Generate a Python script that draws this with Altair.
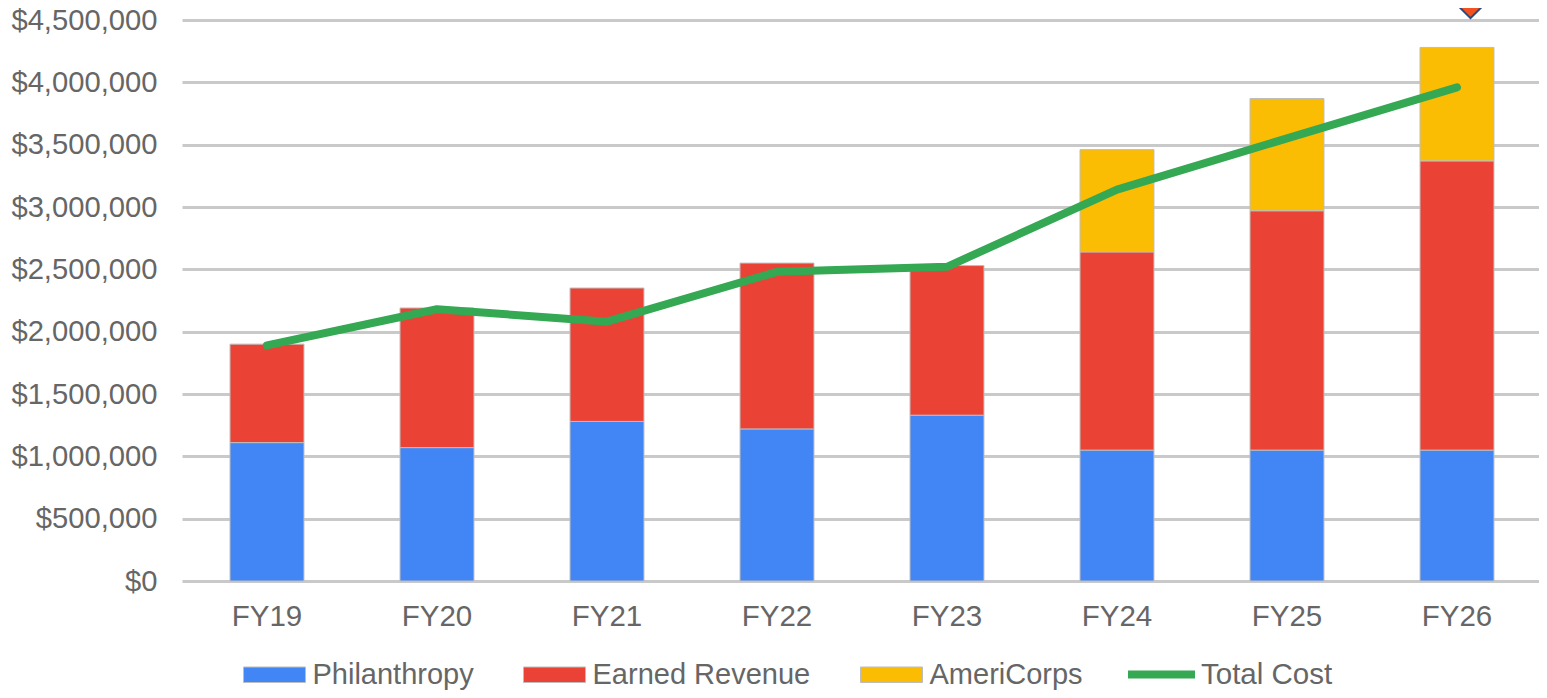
import altair as alt
import pandas as pd

years = ["FY19", "FY20", "FY21", "FY22", "FY23", "FY24", "FY25", "FY26"]
philanthropy = [1110000, 1070000, 1280000, 1220000, 1330000, 1050000, 1050000, 1050000]
earned = [790000, 1120000, 1070000, 1330000, 1200000, 1590000, 1920000, 2320000]
americorps = [0, 0, 0, 0, 0, 820000, 900000, 910000]
total_cost = [1890000, 2180000, 2080000, 2480000, 2520000, 3140000, 3550000, 3960000]
series = ["Philanthropy", "Earned Revenue", "AmeriCorps"]
colors = ["#4285f4", "#ea4335", "#fbbc04"]
y_ticks = [0, 500000, 1000000, 1500000, 2000000, 2500000, 3000000, 3500000, 4000000, 4500000]
marker_year = ["FY26"]
marker_value = [4683000]

FONT = "Liberation Sans"
TEXT = "#666666"

rows = []
for i, yr in enumerate(years):
    for k, (name, vals) in enumerate(zip(series, [philanthropy, earned, americorps])):
        if vals[i] > 0:
            rows.append({"year": yr, "series": name, "value": vals[i], "k": k})
bars_df = pd.DataFrame(rows)
line_df = pd.DataFrame({"year": years, "value": total_cost, "series": "Total Cost"})
marker_df = pd.DataFrame({"year": marker_year, "value": marker_value})

x_scale = alt.Scale(paddingInner=0.565, paddingOuter=0.2825, range=[0, 1360])
x = alt.X(
    "year:N",
    sort=years,
    title=None,
    scale=x_scale,
    axis=alt.Axis(labelAngle=0, labelFont=FONT, labelFontSize=29.5, labelColor=TEXT,
                  labelPadding=21, domain=False, ticks=False, grid=False),
)
y_scale = alt.Scale(domain=[0, 4500000], nice=False)

bars = alt.Chart(bars_df).mark_bar(stroke="#bdbdbd", strokeWidth=1).encode(
    x=x,
    y=alt.Y(
        "value:Q",
        stack="zero",
        title=None,
        scale=y_scale,
        axis=alt.Axis(values=y_ticks, format="$,.0f", labelFont=FONT, labelFontSize=29.2,
                      labelColor=TEXT, labelPadding=25, domain=False, ticks=False,
                      grid=True, gridColor="#c9c9c9", gridWidth=3),
    ),
    order=alt.Order("k:Q"),
    color=alt.Color(
        "series:N",
        scale=alt.Scale(domain=series, range=colors),
        legend=alt.Legend(
            title=None, orient="none", legendX=61, legendY=623, direction="horizontal",
            columns=3, columnPadding=47, labelFont=FONT, labelFontSize=29, labelColor=TEXT,
            labelOffset=6.5, symbolType="M-1,-0.25H1V0.25H-1Z", symbolSize=3844,
            symbolStrokeColor="#bdbdbd", symbolStrokeWidth=1, symbolOpacity=1,
            labelLimit=400,
        ),
    ),
)

line = alt.Chart(line_df).mark_line(strokeWidth=8, strokeCap="round", strokeJoin="round").encode(
    x=alt.X("year:N", sort=years),
    y=alt.Y("value:Q", scale=y_scale),
    stroke=alt.Stroke(
        "series:N",
        scale=alt.Scale(domain=["Total Cost"], range=["#34a853"]),
        legend=alt.Legend(
            title=None, orient="none", legendX=942, legendY=617, labelFont=FONT,
            labelFontSize=29.5, labelColor=TEXT, labelOffset=2, symbolType="stroke",
            symbolSize=4489, symbolStrokeWidth=8, labelLimit=300,
        ),
    ),
)

marker = alt.Chart(marker_df).mark_point(
    shape="diamond", size=1764, filled=True, fill="#f4511e", stroke="#1f4e8c",
    strokeWidth=2, opacity=1, xOffset=13.5,
).encode(
    x=alt.X("year:N", sort=years),
    y=alt.Y("value:Q", scale=y_scale),
)

chart = (
    alt.layer(bars, line, marker)
    .resolve_scale(color="independent")
    .properties(
        width=1357,
        height=561,
        padding={"left": 174, "top": 12, "right": 0, "bottom": 109},
        autosize=alt.AutoSizeParams(type="none"),
        background="white",
    )
    .configure_view(stroke=None)
)

chart.save("out.html", embed_options={"renderer": "svg", "actions": False})
